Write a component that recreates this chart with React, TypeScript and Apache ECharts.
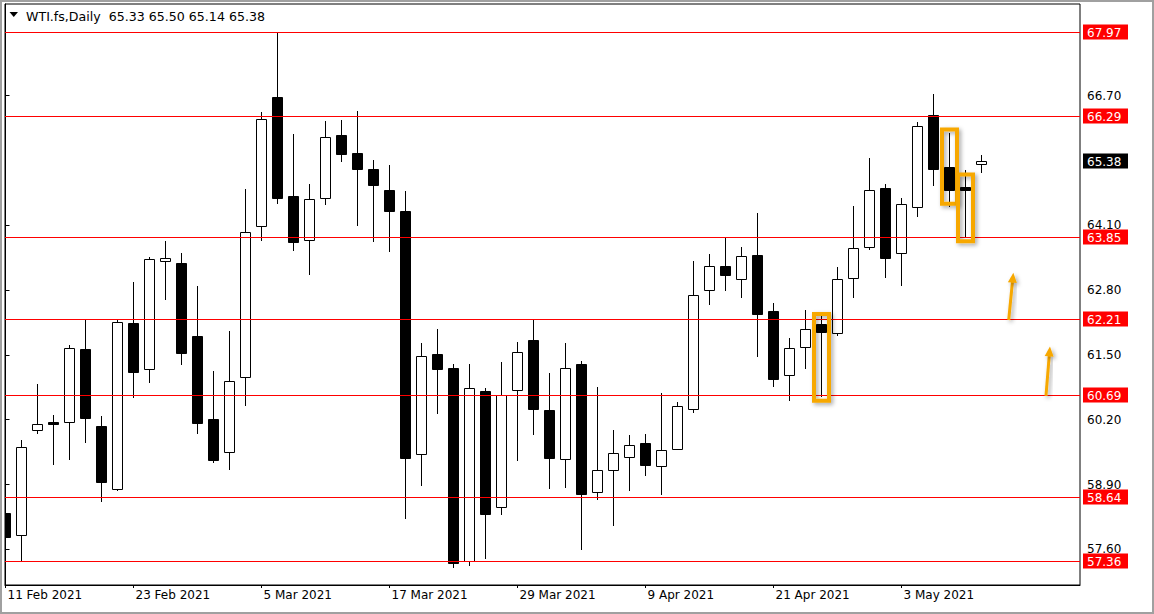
import React, { useEffect, useRef } from "react";
import * as echarts from "echarts";

// ---- data ----
const dates = [
  "11 Feb 2021", "12 Feb 2021", "15 Feb 2021", "16 Feb 2021", "17 Feb 2021", "18 Feb 2021", "19 Feb 2021", "22 Feb 2021",
  "23 Feb 2021", "24 Feb 2021", "25 Feb 2021", "26 Feb 2021", "1 Mar 2021", "2 Mar 2021", "3 Mar 2021", "4 Mar 2021",
  "5 Mar 2021", "8 Mar 2021", "9 Mar 2021", "10 Mar 2021", "11 Mar 2021", "12 Mar 2021", "15 Mar 2021", "16 Mar 2021",
  "17 Mar 2021", "18 Mar 2021", "19 Mar 2021", "22 Mar 2021", "23 Mar 2021", "24 Mar 2021", "25 Mar 2021", "26 Mar 2021",
  "29 Mar 2021", "30 Mar 2021", "31 Mar 2021", "1 Apr 2021", "5 Apr 2021", "6 Apr 2021", "7 Apr 2021", "8 Apr 2021",
  "9 Apr 2021", "12 Apr 2021", "13 Apr 2021", "14 Apr 2021", "15 Apr 2021", "16 Apr 2021", "19 Apr 2021", "20 Apr 2021",
  "21 Apr 2021", "22 Apr 2021", "23 Apr 2021", "26 Apr 2021", "27 Apr 2021", "28 Apr 2021", "29 Apr 2021", "30 Apr 2021",
  "3 May 2021", "4 May 2021", "5 May 2021", "6 May 2021", "7 May 2021", "10 May 2021",
];
const opens = [
  58.32, 57.88, 60.0, 60.15, 60.16, 61.61, 60.07, 58.82,
  62.13, 61.21, 63.38, 63.34, 61.88, 60.22, 59.55, 61.06,
  64.08, 66.67, 64.68, 63.81, 64.65, 65.91, 65.55, 65.23,
  64.8, 64.38, 59.51, 61.51, 61.24, 57.37, 60.78, 58.44,
  60.79, 61.8, 60.39, 59.41, 61.31, 58.76, 59.2, 59.46,
  59.74, 59.28, 59.62, 60.41, 62.81, 63.29, 63.02, 63.5,
  62.38, 61.09, 61.65, 62.11, 61.93, 63.05, 63.66, 64.84,
  63.54, 64.46, 66.31, 65.26, 64.87, 65.33,
];
const highs = [
  58.65, 59.79, 60.92, 60.3, 61.7, 62.23, 60.27, 62.2,
  62.96, 63.47, 63.78, 63.54, 62.88, 61.18, 61.98, 64.82,
  66.38, 67.97, 65.94, 64.93, 66.19, 66.21, 66.39, 65.41,
  65.3, 64.78, 61.74, 62.02, 61.32, 61.32, 60.83, 61.35,
  61.75, 62.23, 61.14, 61.73, 61.37, 60.85, 60.0, 59.89,
  59.91, 60.73, 60.55, 63.39, 63.53, 63.84, 63.66, 64.35,
  62.54, 61.84, 62.4, 62.28, 63.26, 64.49, 65.45, 64.93,
  64.65, 66.17, 66.73, 65.95, 65.21, 65.5,
];
const lows = [
  57.8, 57.35, 59.92, 59.3, 59.39, 59.74, 58.54, 58.78,
  60.64, 60.94, 62.6, 61.3, 59.91, 59.33, 59.19, 60.48,
  63.79, 64.52, 63.58, 63.1, 64.5, 65.37, 64.08, 63.77,
  63.57, 58.21, 58.88, 60.32, 57.22, 57.26, 57.4, 58.28,
  59.38, 59.9, 58.82, 58.84, 57.59, 58.58, 58.07, 58.78,
  59.08, 58.69, 59.59, 60.34, 62.51, 62.78, 62.65, 61.46,
  60.85, 60.58, 61.22, 60.66, 61.87, 62.65, 63.6, 63.05,
  62.89, 64.26, 64.89, 64.47, 63.86, 65.14,
];
const closes = [
  57.85, 59.65, 60.11, 60.12, 61.63, 60.24, 58.96, 62.15,
  61.16, 63.42, 63.44, 61.54, 60.14, 59.39, 60.98, 63.97,
  66.24, 64.65, 63.77, 64.62, 65.87, 65.53, 65.23, 64.91,
  64.39, 59.44, 61.47, 61.22, 57.33, 60.83, 58.3, 60.69,
  61.55, 60.41, 59.44, 61.23, 58.72, 59.2, 59.54, 59.7,
  59.3, 59.6, 60.47, 62.71, 63.29, 63.11, 63.48, 62.33,
  61.02, 61.63, 62.02, 61.96, 63.02, 63.64, 64.8, 63.45,
  64.52, 66.1, 65.23, 64.81, 64.8, 65.38,
];
const levelLines = [67.97, 66.29, 63.85, 62.21, 60.69, 58.64, 57.36];
const lastPrice = 65.38;
const titleText = "WTI.fs,Daily  65.33 65.50 65.14 65.38";
const priceTicks = [57.6, 58.9, 60.2, 61.5, 62.8, 64.1, 66.7];
const dateTickIndices = [0, 8, 16, 24, 32, 40, 48, 56];
// highlight boxes: [candle index, top price, bottom price]
const highlightBoxes = [
  [51, 62.32, 60.58],
  [59, 66.02, 64.53],
  [60, 65.12, 63.78],
];
// arrows: [start x (bar units), start price, tip x (bar units), tip price]
const arrows = [
  [62.7, 62.2, 62.99, 63.15],
  [65.03, 60.68, 65.28, 61.67],
];

const FONT = "DejaVu Sans";
const ORANGE = "#f7a800";

export default function App() {
  const ref = useRef<HTMLDivElement>(null);

  useEffect(() => {
    document.body.style.margin = "0";
    const chart = echarts.init(ref.current!, null, { renderer: "svg" });

    const candleData = dates.map((d, i) => [i, opens[i], closes[i], lows[i], highs[i]]);

    const option: any = {
      animation: false,
      backgroundColor: "#ffffff",
      grid: {
        left: 5,
        right: 74,
        top: 4,
        bottom: 29,
        show: true,
        borderColor: "#000",
        borderWidth: 1,
        backgroundColor: "#fff",
      },
      xAxis: {
        type: "value",
        min: -0.03125,
        max: 67.15625,
        splitLine: { show: false },
        axisLine: { show: true, onZero: false, lineStyle: { color: "#000", width: 1 } },
        axisTick: { show: true, customValues: dateTickIndices, length: 3, lineStyle: { color: "#000" } },
        axisLabel: {
          customValues: dateTickIndices,
          formatter: (v: number) => dates[Math.round(v)] ?? "",
          align: "left",
          margin: 4,
          padding: [0, 0, 0, 2],
          color: "#000",
          fontFamily: FONT,
          fontSize: 12,
        },
      },
      yAxis: {
        type: "value",
        position: "right",
        min: 56.885,
        max: 68.538,
        scale: true,
        splitLine: { show: false },
        axisLine: { show: true, lineStyle: { color: "#000", width: 1 } },
        axisTick: { show: true, customValues: priceTicks, length: 4, lineStyle: { color: "#000" } },
        axisLabel: {
          customValues: priceTicks,
          formatter: (v: number) => v.toFixed(2),
          margin: 7,
          color: "#000",
          fontFamily: FONT,
          fontSize: 12,
        },
      },
      graphic: [
        {
          type: "rect",
          shape: { x: 1, y: 1, width: 1152, height: 612 },
          style: { fill: "none", stroke: "#a0a0a0", lineWidth: 2 },
          silent: true,
          z: 100,
        },
        {
          type: "polygon",
          shape: { points: [[9.5, 12], [18, 12], [13.75, 17]] },
          style: { fill: "#000" },
          z: 100,
        },
        {
          type: "text",
          x: 26,
          y: 16,
          style: {
            text: titleText,
            fill: "#000",
            font: `12.6px "${FONT}"`,
            verticalAlign: "middle",
          },
          z: 100,
        },
      ],
      series: [
        {
          type: "custom",
          name: "WTI",
          clip: true,
          z: 2,
          data: candleData,
          encode: { x: 0, y: [1, 2, 3, 4] },
          renderItem: (params: any, api: any) => {
            const i = api.value(0);
            const o = api.value(1);
            const c = api.value(2);
            const l = api.value(3);
            const h = api.value(4);
            const pO = api.coord([i, o]);
            const pC = api.coord([i, c]);
            const pL = api.coord([i, l]);
            const pH = api.coord([i, h]);
            const cx = Math.floor(pO[0] + 0.001) + 0.5;
            const yO = Math.round(pO[1]);
            const yC = Math.round(pC[1]);
            const top = Math.min(yO, yC);
            const bot = Math.max(yO, yC);
            const bull = c >= o;
            return {
              type: "group",
              children: [
                {
                  type: "line",
                  shape: { x1: cx, y1: Math.round(pH[1]), x2: cx, y2: Math.round(pL[1]) },
                  style: { stroke: "#000", lineWidth: 1 },
                },
                {
                  type: "rect",
                  shape: { x: cx - 5, y: top + 0.5, width: 10, height: bot - top },
                  style: { fill: bull ? "#fff" : "#000", stroke: "#000", lineWidth: 1 },
                },
              ],
            };
          },
        },
        {
          type: "custom",
          name: "levels",
          clip: false,
          z: 3,
          data: levelLines.map((v) => [0, v]),
          encode: { x: 0, y: 1 },
          renderItem: (params: any, api: any) => {
            const cs = params.coordSys;
            const v = api.value(1);
            const y = Math.floor(api.coord([0, v])[1]) + 0.5;
            const right = cs.x + cs.width;
            return {
              type: "group",
              children: [
                {
                  type: "line",
                  shape: { x1: cs.x, y1: y, x2: right, y2: y },
                  style: { stroke: "#ff0000", lineWidth: 1 },
                },
                {
                  type: "rect",
                  shape: { x: right + 3, y: y - 8, width: 45, height: 15 },
                  style: { fill: "#ff0000" },
                },
                {
                  type: "text",
                  x: right + 7,
                  y: y,
                  style: {
                    text: v.toFixed(2),
                    fill: "#fff",
                    font: `12px "${FONT}"`,
                    verticalAlign: "middle",
                    align: "left",
                  },
                },
              ],
            };
          },
        },
        {
          type: "custom",
          name: "last",
          clip: false,
          z: 3,
          data: [[0, lastPrice]],
          encode: { x: 0, y: 1 },
          renderItem: (params: any, api: any) => {
            const cs = params.coordSys;
            const v = api.value(1);
            const y = Math.floor(api.coord([0, v])[1]) + 0.5;
            const right = cs.x + cs.width;
            return {
              type: "group",
              children: [
                {
                  type: "rect",
                  shape: { x: right + 3, y: y - 8, width: 45, height: 15 },
                  style: { fill: "#000" },
                },
                {
                  type: "text",
                  x: right + 7,
                  y: y,
                  style: {
                    text: v.toFixed(2),
                    fill: "#fff",
                    font: `12px "${FONT}"`,
                    verticalAlign: "middle",
                    align: "left",
                  },
                },
              ],
            };
          },
        },
        {
          type: "custom",
          name: "highlights",
          clip: false,
          z: 5,
          data: highlightBoxes,
          encode: { x: 0, y: [1, 2] },
          renderItem: (params: any, api: any) => {
            const i = api.value(0);
            const pT = api.coord([i, api.value(1)]);
            const pB = api.coord([i, api.value(2)]);
            const cx = Math.floor(pT[0] + 0.001) + 0.5;
            return {
              type: "rect",
              shape: { x: cx - 7.5, y: pT[1], width: 15, height: pB[1] - pT[1] },
              style: {
                fill: "none",
                stroke: ORANGE,
                lineWidth: 4,
                shadowColor: "rgba(0,0,0,0.35)",
                shadowBlur: 4,
                shadowOffsetX: 2,
                shadowOffsetY: 2,
              },
            };
          },
        },
        {
          type: "custom",
          name: "arrows",
          clip: false,
          z: 5,
          data: arrows,
          encode: { x: [0, 2], y: [1, 3] },
          renderItem: (params: any, api: any) => {
            const p0 = api.coord([api.value(0), api.value(1)]);
            const p1 = api.coord([api.value(2), api.value(3)]);
            const dx = p1[0] - p0[0];
            const dy = p1[1] - p0[1];
            const len = Math.sqrt(dx * dx + dy * dy);
            const ux = dx / len;
            const uy = dy / len;
            const headLen = 10;
            const headHalf = 4.5;
            const bx = p1[0] - ux * headLen;
            const by = p1[1] - uy * headLen;
            const px = -uy;
            const py = ux;
            const shadow = {
              shadowColor: "rgba(0,0,0,0.35)",
              shadowBlur: 4,
              shadowOffsetX: 2,
              shadowOffsetY: 2,
            };
            return {
              type: "group",
              children: [
                {
                  type: "line",
                  shape: { x1: p0[0], y1: p0[1], x2: bx + ux * 1, y2: by + uy * 1 },
                  style: { stroke: ORANGE, lineWidth: 3, ...shadow },
                },
                {
                  type: "polygon",
                  shape: {
                    points: [
                      [p1[0], p1[1]],
                      [bx + px * headHalf, by + py * headHalf],
                      [bx - px * headHalf, by - py * headHalf],
                    ],
                  },
                  style: { fill: ORANGE, ...shadow },
                },
              ],
            };
          },
        },
      ],
    };

    chart.setOption(option);
    return () => chart.dispose();
  }, []);

  return <div ref={ref} style={{ width: 1154, height: 614 }} />;
}
